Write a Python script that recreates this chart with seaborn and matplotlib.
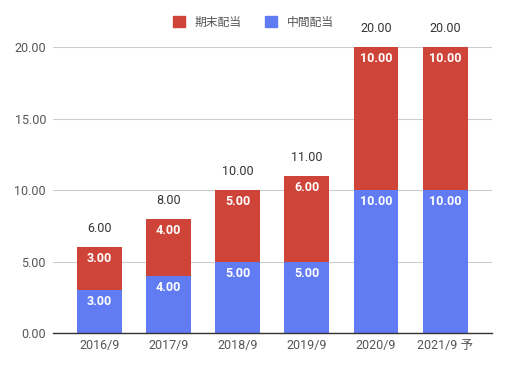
import pandas as pd
import numpy as np
import seaborn as sns
import matplotlib.pyplot as plt
from matplotlib.patches import Patch

# 配当データ
years = ["2016/9", "2017/9", "2018/9", "2019/9", "2020/9", "2021/9 予"]
interim = [3.0, 4.0, 5.0, 5.0, 10.0, 10.0]   # 中間配当
year_end = [3.0, 4.0, 5.0, 6.0, 10.0, 10.0]  # 期末配当
totals = [a + b for a, b in zip(interim, year_end)]

df = pd.DataFrame({"年度": years, "中間配当": interim, "期末配当": year_end, "合計": totals})

red = "#CF4438"
blue = "#617BF3"

sns.set_style("whitegrid")
plt.rcParams['font.family'] = ['Roboto', 'Noto Sans CJK JP', 'DejaVu Sans']

fig = plt.figure(figsize=(5.07, 3.68), dpi=100)
ax = fig.add_axes([0.1045, 0.0951, 0.866, 0.7764])

# 合計(赤)の上に中間配当(青)を重ねて積み上げ棒にする
sns.barplot(data=df, x="年度", y="合計", color=red, width=0.65, saturation=1,
            linewidth=0, ax=ax)
sns.barplot(data=df, x="年度", y="中間配当", color=blue, width=0.65, saturation=1,
            linewidth=0, ax=ax)

for i in range(len(years)):
    ax.text(i, interim[i] - 0.35, f"{interim[i]:.2f}", ha="center", va="top",
            color="white", fontsize=9, fontweight="bold")
    ax.text(i, totals[i] - 0.35, f"{year_end[i]:.2f}", ha="center", va="top",
            color="white", fontsize=9, fontweight="bold")
    ax.text(i, totals[i] + 0.85, f"{totals[i]:.2f}", ha="center", va="bottom",
            color="#333333", fontsize=9, clip_on=False)

ax.set_xlim(-0.675, 5.68)
ax.set_ylim(0, 20)
ax.set_yticks([0, 5, 10, 15, 20])
ax.set_yticklabels([f"{v:.2f}" for v in [0, 5, 10, 15, 20]])
ax.set_xlabel("")
ax.set_ylabel("")
ax.grid(axis="x", visible=False)
ax.grid(axis="y", color="#CCCCCC", linewidth=0.8)
for s in ["top", "right", "left"]:
    ax.spines[s].set_visible(False)
ax.spines["bottom"].set_color("#333333")
ax.spines["bottom"].set_linewidth(1.0)
ax.tick_params(axis="y", colors="#555555", labelsize=9, length=0, pad=5)
ax.tick_params(axis="x", colors="#555555", labelsize=9, length=0, pad=4)

handles = [Patch(color=red, label="期末配当"), Patch(color=blue, label="中間配当")]
fig.legend(handles=handles, loc="center", bbox_to_anchor=(0.5, 0.94), ncol=2,
           frameon=False, fontsize=8.5, handlelength=1.0, handleheight=1.0,
           columnspacing=2.0, labelcolor="#555555")

fig.savefig("out.png", dpi=100)
